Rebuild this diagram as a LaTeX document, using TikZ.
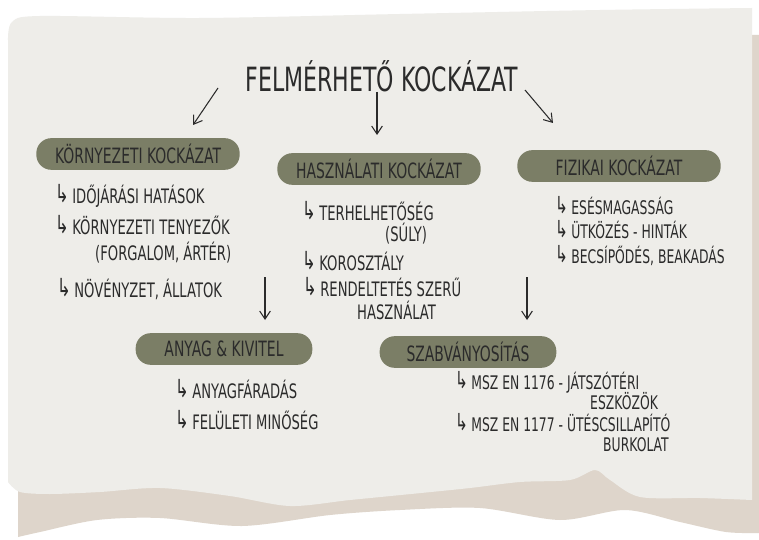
\documentclass[tikz,border=0pt]{standalone}
\usepackage{fontspec}
\usetikzlibrary{arrows.meta}
\newfontfamily\handfont[FakeStretch=0.66]{DejaVu Sans}
\definecolor{paper}{HTML}{EEEDE9}
\definecolor{tornedge}{HTML}{DED5CB}
\definecolor{olive}{HTML}{7B7E66}
\definecolor{ink}{HTML}{2B2B2B}
\newcommand{\hookarr}{\raisebox{0.05em}{\scalebox{1.25}{↳}}\,}
\tikzset{
  heading/.style={fill=olive, rounded corners=0.45cm, minimum height=0.95cm, minimum width=6.1cm, text=ink, font=\handfont\fontsize{18}{19}\selectfont},
  point/.style={anchor=west, text=ink, inner sep=0pt, font=\handfont\fontsize{17}{18}\selectfont},
  smallpoint/.style={point, font=\handfont\fontsize{16}{17}\selectfont},
  arr/.style={draw=ink, line width=0.9pt, -{Straight Barb[length=2.4mm,width=3.2mm]}}
}

\begin{document}
\begin{tikzpicture}[x=0.03cm, y=-0.03cm]
            \useasboundingbox (0,0) rectangle (759,540);
            \fill[white] (0,0) rectangle (759,540);
            % torn edge behind the sheet
            \fill[tornedge] (748,35) -- (759,35) -- (759,533)
                -- plot[smooth] coordinates {(759,533) (726,532) (680,522) (625,510) (560,520) (480,508) (400,510) (330,515) (242,526) (160,518) (97,520) (40,532) (18,537)}
                -- (18,460) -- (748,460) -- cycle;
            % sheet
            \fill[paper] plot[smooth] coordinates {(8,40) (12,22) (40,16) (200,18) (400,14) (600,10) (752,8)}
                -- (752,500)
                -- plot[smooth] coordinates {(752,500) (700,498) (640,497) (610,480) (595,470) (570,480) (520,482) (470,488) (421,493) (350,500) (290,506) (230,496) (160,488) (100,492) (50,494) (20,492) (8,482)}
                -- cycle;

            \node[font=\handfont\fontsize{28.5}{30}\selectfont, text=ink] (title) at (382,76) {FELMÉRHETŐ KOCKÁZAT};

            \node[heading] (envbox) at (138,154) {KÖRNYEZETI KOCKÁZAT};
            \node[heading] (usebox) at (379,169) {HASZNÁLATI KOCKÁZAT};
            \node[heading] (physbox) at (619,166) {FIZIKAI KOCKÁZAT};
            \node[heading, minimum width=5.3cm] (matbox) at (224,349) {ANYAG \& KIVITEL};
            \node[heading, minimum width=5.3cm] (stdbox) at (468,352) {SZABVÁNYOSÍTÁS};

            \node[point] (env1) at (55,196) {\hookarr IDŐJÁRÁSI HATÁSOK};
            \node[point] (env2) at (55,225) {\hookarr KÖRNYEZETI TENYEZŐK};
            \node[point] (env3) at (95,253) {(FORGALOM, ÁRTÉR)};
            \node[point] (env4) at (57,289) {\hookarr NÖVÉNYZET, ÁLLATOK};

            \node[point] (use1) at (302,211) {\hookarr TERHELHETŐSÉG};
            \node[point] (use2) at (385,234) {(SÚLY)};
            \node[point] (use3) at (302,261) {\hookarr KOROSZTÁLY};
            \node[point] (use4) at (303,287) {\hookarr RENDELTETÉS SZERŰ};
            \node[point] (use5) at (357,310) {HASZNÁLAT};

            \node[smallpoint] (phys1) at (555,206) {\hookarr ESÉSMAGASSÁG};
            \node[smallpoint] (phys2) at (555,230) {\hookarr ÜTKÖZÉS - HINTÁK};
            \node[smallpoint] (phys3) at (555,256) {\hookarr BECSÍPŐDÉS, BEAKADÁS};

            \node[point] (mat1) at (175,389) {\hookarr ANYAGFÁRADÁS};
            \node[point] (mat2) at (175,420) {\hookarr FELÜLETI MINŐSÉG};

            \node[smallpoint] (std1) at (455,382) {\hookarr MSZ EN 1176 - JÁTSZÓTÉRI};
            \node[smallpoint] (std2) at (590,401) {ESZKÖZÖK};
            \node[smallpoint] (std3) at (455,423) {\hookarr MSZ EN 1177 - ÜTÉSCSILLAPÍTÓ};
            \node[smallpoint] (std4) at (603,445) {BURKOLAT};

            % arrows
            \coordinate (envfrom) at (218,88);
            \coordinate (envto) at (193,125);
            \coordinate (usefrom) at (377,92);
            \coordinate (useto) at (377,135);
            \coordinate (physfrom) at (525,90);
            \coordinate (physto) at (553,123);
            \coordinate (matfrom) at (265,277);
            \coordinate (matto) at (265,320);
            \coordinate (stdfrom) at (527,277);
            \coordinate (stdto) at (527,320);
            \draw[arr] (envfrom) -- (envto);
            \draw[arr] (usefrom) -- (useto);
            \draw[arr] (physfrom) -- (physto);
            \draw[arr] (matfrom) -- (matto);
            \draw[arr] (stdfrom) -- (stdto);
        \end{tikzpicture}
\end{document}
